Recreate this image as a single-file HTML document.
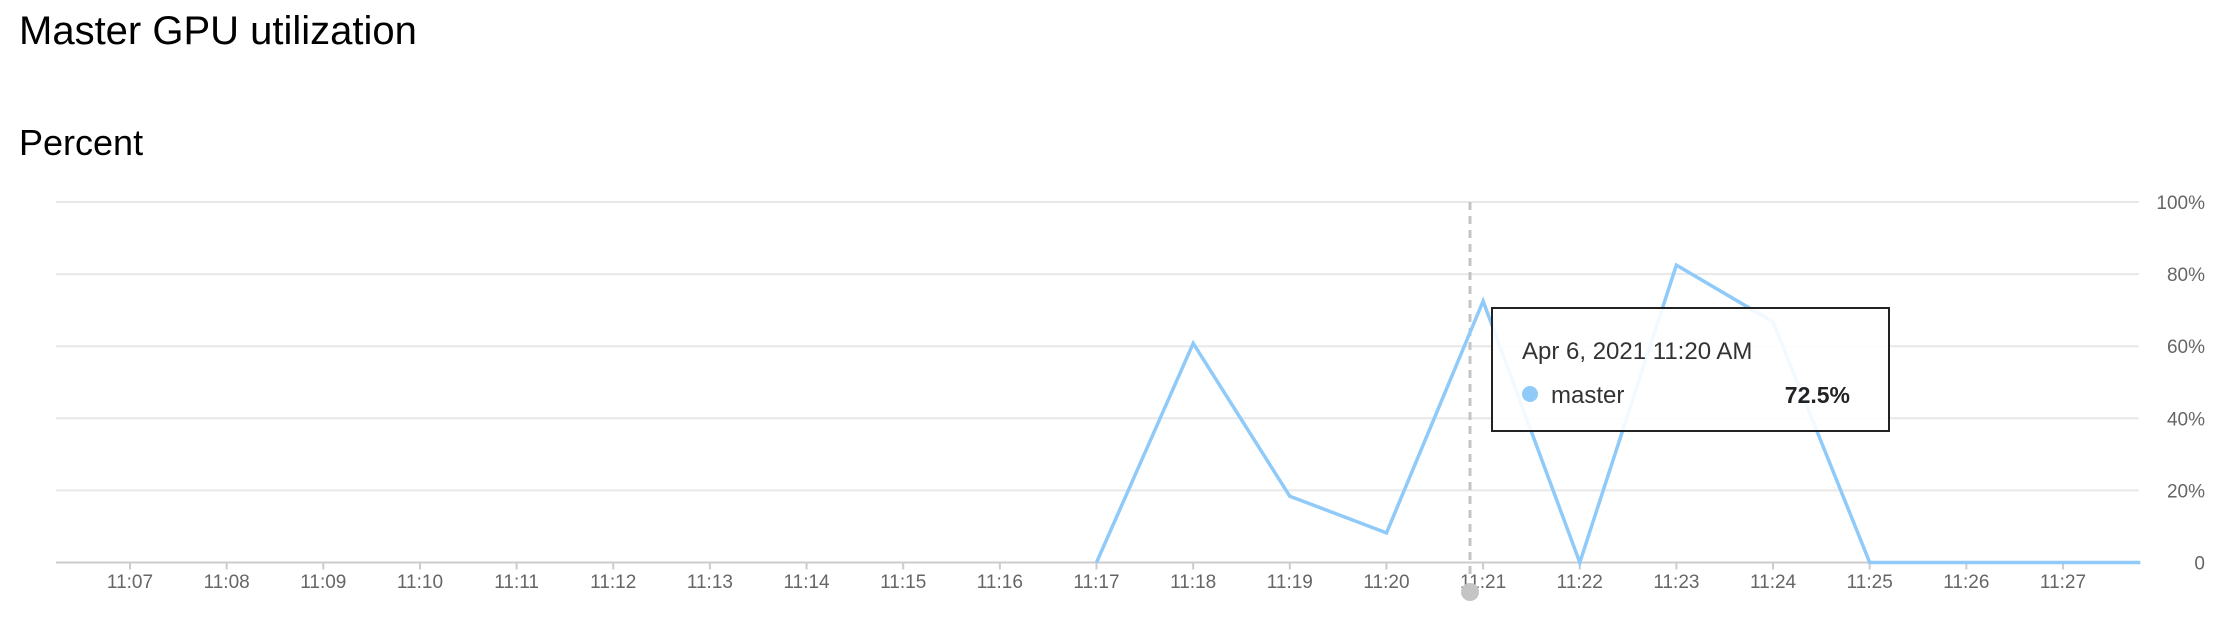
<!DOCTYPE html>
<html><head><meta charset="utf-8"><style>
body{margin:0;background:#fff;width:2214px;height:616px;overflow:hidden;font-family:"Liberation Sans",sans-serif}
</style></head><body>
<svg width="2214" height="616" id="chart" xmlns="http://www.w3.org/2000/svg">
<text x="19" y="44" font-size="40" fill="#000">Master GPU utilization</text>
<text x="19" y="155" font-size="36" fill="#000">Percent</text>
<g id="grid"></g><g id="xaxis"></g><g id="yaxis"></g>
<line x1="1470" y1="202" x2="1470" y2="579" stroke="#c4c4c4" stroke-width="3" stroke-dasharray="8,6"/>
<g id="series"></g>
<circle cx="1470" cy="592" r="9" fill="#c4c4c4"/>
<g>
<rect x="1492" y="308" width="397" height="123" fill="rgba(255,255,255,0.88)" stroke="#222" stroke-width="2"/>
<text x="1522" y="359" font-size="24" fill="#333">Apr 6, 2021 11:20 AM</text>
<circle cx="1530" cy="394" r="8" fill="#90caf9"/>
<text x="1551" y="403" font-size="24" fill="#333">master</text>
<text x="1850" y="403" font-size="23" font-weight="bold" fill="#222" text-anchor="end">72.5%</text>
</g>
</svg>
<script>
const xLabels=["11:07","11:08","11:09","11:10","11:11","11:12","11:13","11:14","11:15","11:16","11:17","11:18","11:19","11:20","11:21","11:22","11:23","11:24","11:25","11:26","11:27"];
const yTicks=[0,20,40,60,80,100];
const pointIdx=[10,11,12,13,14,15,16,17,18,19,20,20.8];
const values=[0,60.8,18.4,8.2,72.5,0,82.5,66.7,0,0,0,0];
const NS="http://www.w3.org/2000/svg";
const L=56,R=2139,X0=130,DX=96.65,Y0=562.5,YH=360.5;
const xs=i=>X0+i*DX, ys=v=>Y0-v/100*YH;
function mk(t,a,p){const e=document.createElementNS(NS,t);for(const k in a)e.setAttribute(k,a[k]);p.appendChild(e);return e;}
const g=document.getElementById('grid'),xa=document.getElementById('xaxis'),ya=document.getElementById('yaxis'),s=document.getElementById('series');
yTicks.forEach(v=>{
 const l=mk('line',{x1:L,x2:R,y1:ys(v),y2:ys(v),stroke:v==0?'#ccc':'#e8e8e8','stroke-width':2},g);
 
 
 const t=mk('text',{x:2205,y:ys(v)+7,'font-size':19,fill:'#666','text-anchor':'end'},ya);
 t.textContent=v==0?'0':v+'%';
 
 
});
xLabels.forEach((lab,i)=>{
 const tk=mk('line',{x1:xs(i),x2:xs(i),y1:Y0,y2:Y0+7,stroke:'#ccc','stroke-width':2},xa);
 
 
 const t=mk('text',{x:xs(i),y:588,'font-size':19,fill:'#666','text-anchor':'middle'},xa);
 t.textContent=lab;
 
 
});
const pts=values.map((v,i)=>xs(pointIdx[i]).toFixed(1)+','+ys(v).toFixed(1)).join(' ');
const pl=mk('polyline',{points:pts,fill:'none',stroke:'#90caf9','stroke-width':3.5,'stroke-linejoin':'miter'},s);


</script>
</body></html>
